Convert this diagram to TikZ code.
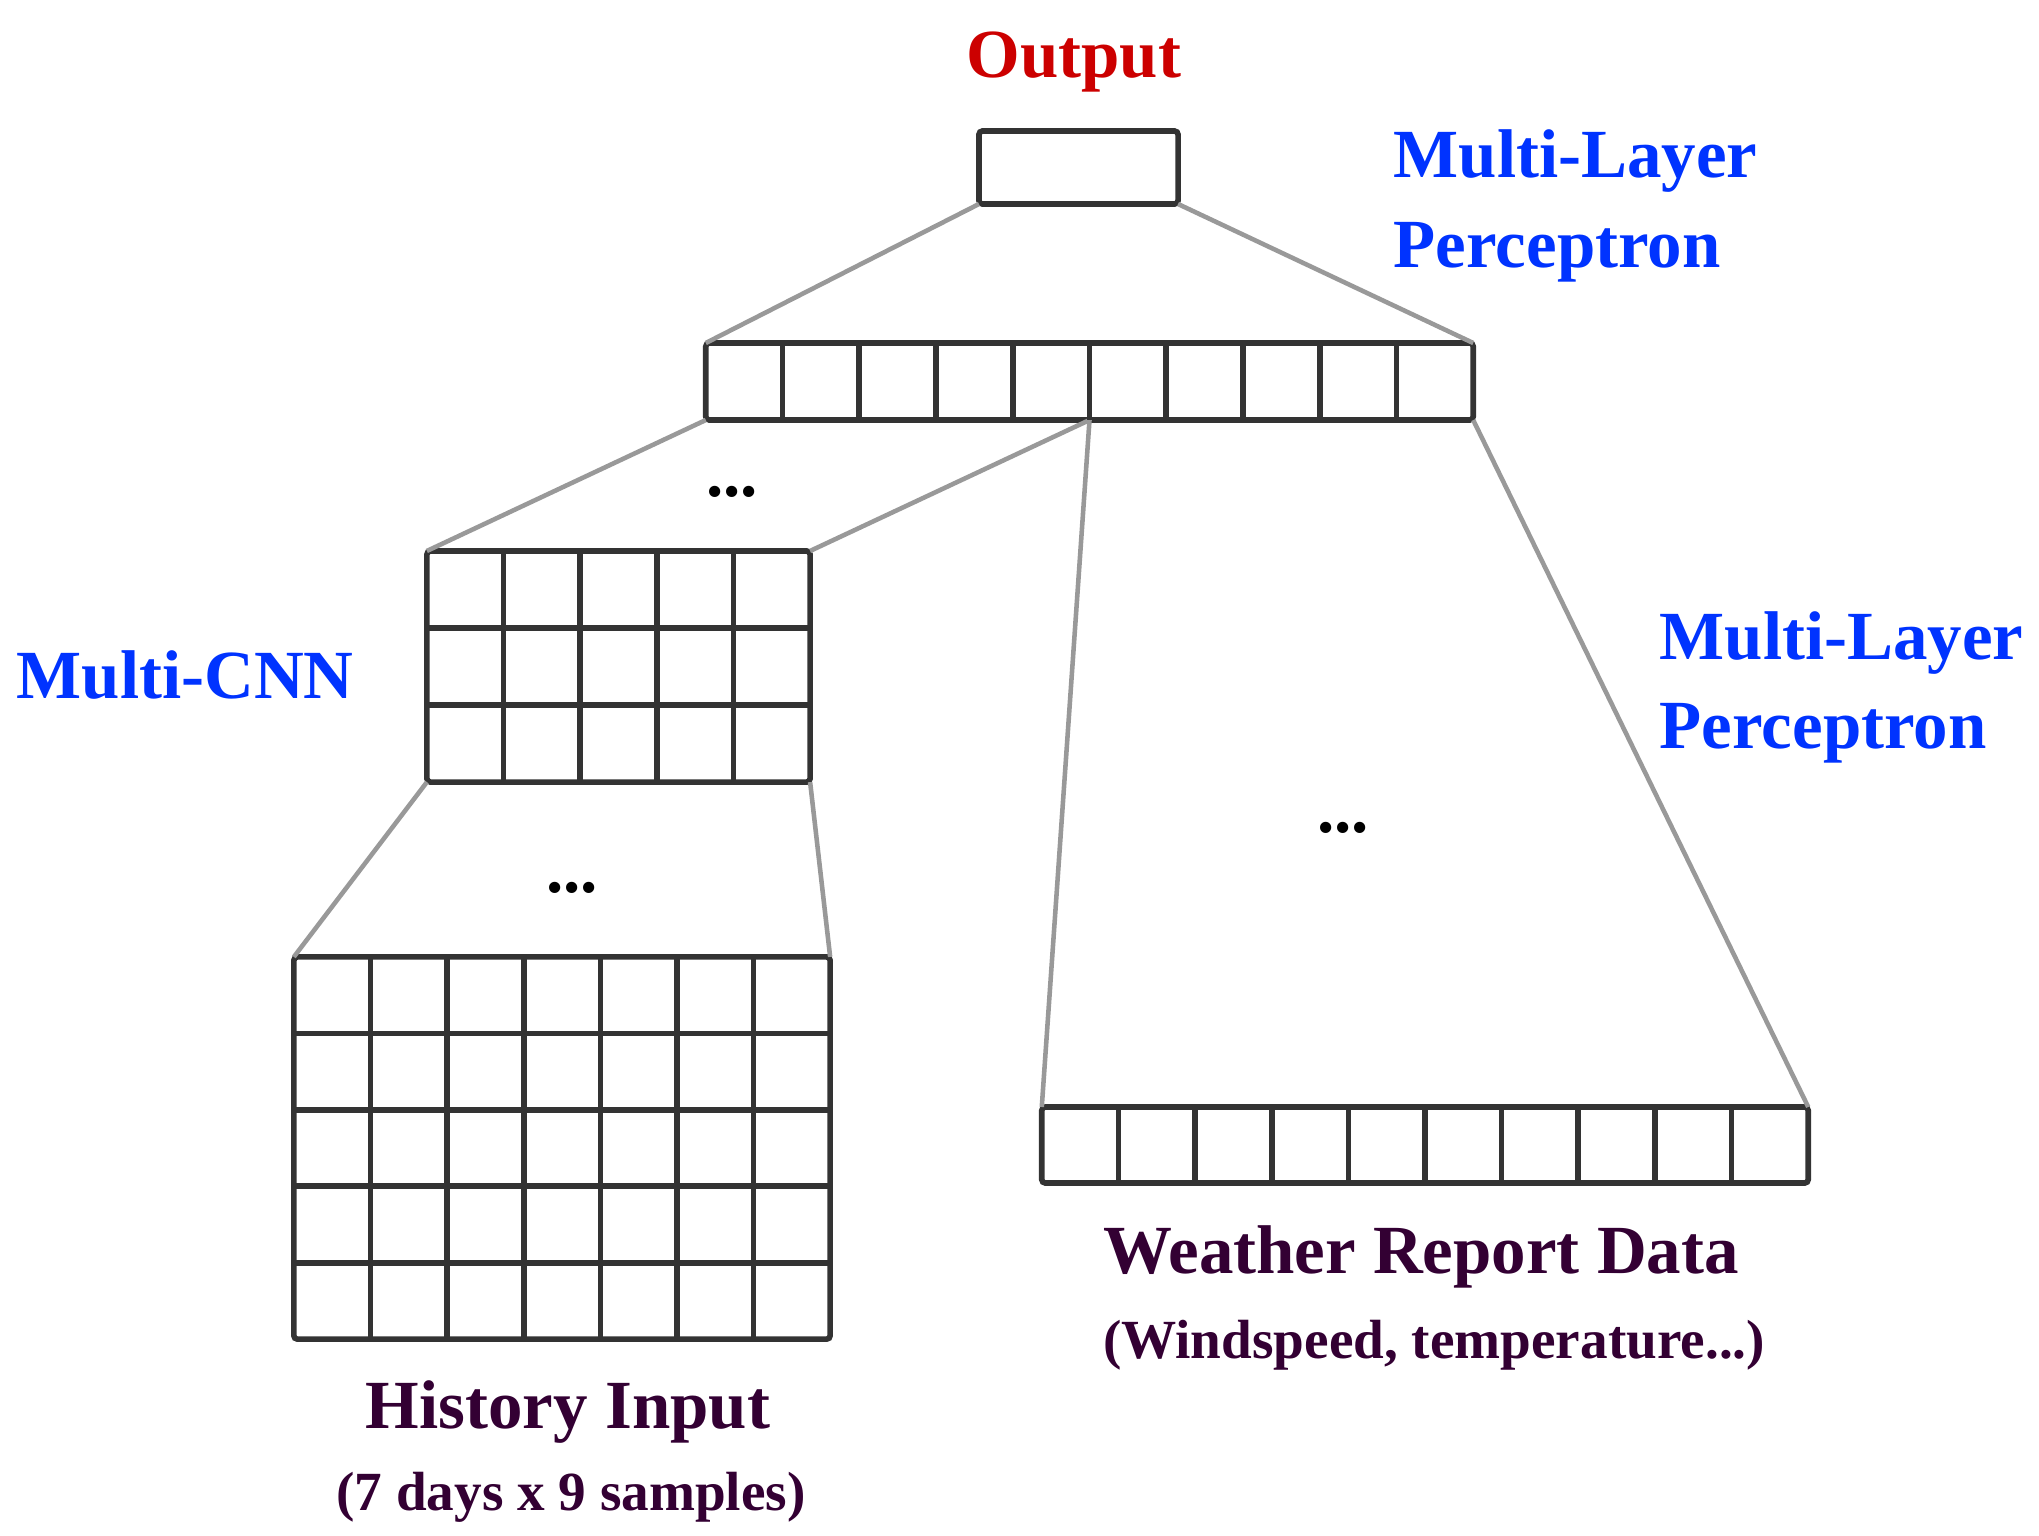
\documentclass[tikz,border=0pt]{standalone}
\usepackage{fontspec}
\setmainfont{Liberation Serif}
\usepackage{xcolor}
\usetikzlibrary{calc,positioning}

\definecolor{outred}{RGB}{204,0,0}
\definecolor{netblue}{RGB}{0,51,255}
\definecolor{datapurple}{RGB}{51,0,51}
\definecolor{boxgray}{RGB}{51,51,51}
\definecolor{linkgray}{RGB}{153,153,153}

\begin{document}
\begin{tikzpicture}[x=0.01cm, y=-0.01cm,
    layer/.style={rectangle, draw=boxgray, line width=1.6pt, rounded corners=1pt, inner sep=0pt, outer sep=0pt},
    divider/.style={draw=boxgray, line width=1.6pt},
    link/.style={draw=linkgray, line width=1.3pt},
    title/.style={font=\bfseries\fontsize{19.6}{22}\selectfont, inner sep=0pt},
    note/.style={font=\bfseries\fontsize{15.7}{18}\selectfont, inner sep=0pt, text=datapurple},
    dots/.style={font=\bfseries\fontsize{19.6}{22}\selectfont, inner sep=0pt}]
    \useasboundingbox (0,0) rectangle (2039,1535);

    % layers
    \node [layer, minimum width=1.99cm, minimum height=0.73cm] (out) at (1078.5,167.5) {};
    \node [layer, minimum width=7.67cm, minimum height=0.77cm] (mlp) at (1089.5,381.5) {};
    \node [layer, minimum width=3.83cm, minimum height=2.31cm] (cnn) at (618.5,666.5) {};
    \node [layer, minimum width=5.36cm, minimum height=3.82cm] (hist) at (562,1148) {};
    \node [layer, minimum width=7.66cm, minimum height=0.76cm] (wx) at (1425,1145) {};

    % connections
    \draw [link] (out.south west) -- (mlp.north west);
    \draw [link] (out.south east) -- (mlp.north east);
    \draw [link] (mlp.south west) -- (cnn.north west);
    \draw [link] (mlp.south) -- (cnn.north east);
    \draw [link] (mlp.south) -- (wx.north west);
    \draw [link] (mlp.south east) -- (wx.north east);
    \draw [link] (cnn.south west) -- (hist.north west);
    \draw [link] (cnn.south east) -- (hist.north east);

    % cells
    \foreach \i in {1,...,9} {
        \draw [divider] ($(mlp.north west)!\i/10!(mlp.north east)$) -- ($(mlp.south west)!\i/10!(mlp.south east)$);
        \draw [divider] ($(wx.north west)!\i/10!(wx.north east)$) -- ($(wx.south west)!\i/10!(wx.south east)$);
    }
    \foreach \i in {1,...,4}
        \draw [divider] ($(cnn.north west)!\i/5!(cnn.north east)$) -- ($(cnn.south west)!\i/5!(cnn.south east)$);
    \foreach \j in {1,2}
        \draw [divider] ($(cnn.north west)!\j/3!(cnn.south west)$) -- ($(cnn.north east)!\j/3!(cnn.south east)$);
    \foreach \i in {1,...,6}
        \draw [divider] ($(hist.north west)!\i/7!(hist.north east)$) -- ($(hist.south west)!\i/7!(hist.south east)$);
    \foreach \j in {1,...,4}
        \draw [divider] ($(hist.north west)!\j/5!(hist.south west)$) -- ($(hist.north east)!\j/5!(hist.south east)$);

    % ellipses
    \node [dots] (dotsmlp) at (732,492) {...};
    \node [dots] (dotscnn) at (572,888) {...};
    \node [dots] (dotswx) at (1343,828) {...};

    % labels
    \node [title, text=outred, anchor=base] (outlbl) at (1074,77) {Output};
    \node [title, text=netblue, anchor=base west] (mlptop) at (1393,177) {Multi-Layer};
    \node [title, text=netblue, anchor=base west] (mlptopb) at (1393,267) {Perceptron};
    \node [title, text=netblue, anchor=base west] (cnnlbl) at (16,698) {Multi-CNN};
    \node [title, text=netblue, anchor=base west] (mlpright) at (1659,659) {Multi-Layer};
    \node [title, text=netblue, anchor=base west] (mlprightb) at (1659,748) {Perceptron};
    \node [title, text=datapurple, anchor=base] (histlbl) at (568,1428) {History Input};
    \node [note, anchor=base] (histnote) at (571,1510) {(7 days x 9 samples)};
    \node [title, text=datapurple, anchor=base] (wxlbl) at (1421,1273) {Weather Report Data};
    \node [note, anchor=base] (wxnote) at (1434,1358) {(Windspeed, temperature...)};
\end{tikzpicture}
\end{document}
